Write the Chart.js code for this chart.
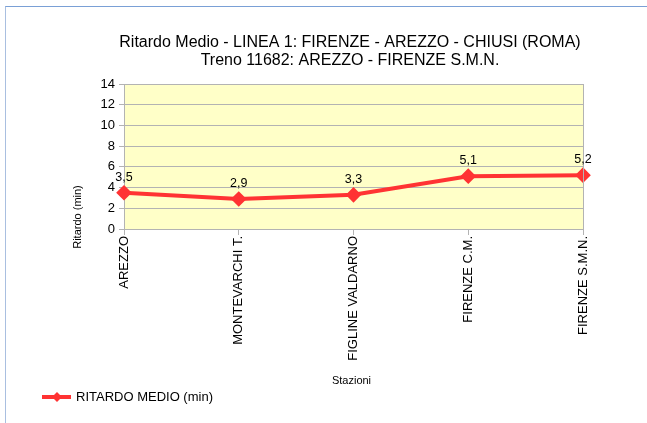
<!DOCTYPE html>
<html>
<head>
<meta charset="utf-8">
<script src="https://cdn.jsdelivr.net/npm/chart.js@4.4.0/dist/chart.umd.min.js"></script>
<style>
  body { margin: 0; background: #fff; }
  #wrap { position: relative; width: 647px; height: 423px; }
  #frame { position: absolute; left: 5px; top: 6px; right: 0; bottom: 0;
           border-top: 1.5px solid #7aa0d6; border-left: 1.5px solid #a9bfe0; }
  canvas { position: absolute; left: 0; top: 0; }
</style>
</head>
<body>
<div id="wrap">
  <div id="frame"></div>
  <canvas id="chart" width="647" height="423"></canvas>
</div>
<script>
// Data
const stazioni = ['AREZZO', 'MONTEVARCHI T.', 'FIGLINE VALDARNO', 'FIRENZE C.M.', 'FIRENZE S.M.N.'];
const ritardo = [3.5, 2.9, 3.3, 5.1, 5.2];
const yTicks = [0, 2, 4, 6, 8, 10, 12, 14];

const titleLines = ['Ritardo Medio - LINEA 1: FIRENZE - AREZZO - CHIUSI (ROMA)', 'Treno 11682: AREZZO - FIRENZE S.M.N.'];
const seriesName = 'RITARDO MEDIO (min)';
const FONT = '"Liberation Sans", Arial, sans-serif';
const RED = '#ff3333';

// Yellow background + right border of plot area
const plotBg = {
    id: 'plotBg',
    beforeDraw(chart) {
        const { ctx, chartArea: a } = chart;
        ctx.save();
        ctx.fillStyle = '#ffffc8';
        ctx.fillRect(a.left, a.top, a.right - a.left, a.bottom - a.top);
        ctx.restore();
    },
    afterDatasetsDraw(chart) {
        const { ctx, chartArea: a } = chart;
        ctx.save();
        ctx.strokeStyle = '#b3b3b3';
        ctx.lineWidth = 1;
        ctx.beginPath();
        ctx.moveTo(a.right + 0.5, a.top);
        ctx.lineTo(a.right + 0.5, a.bottom);
        ctx.stroke();
        ctx.restore();
    }
};

// Titles, axis titles, value labels, legend
const extras = {
    id: 'extras',
    afterDraw(chart) {
        const { ctx, chartArea: a } = chart;
        const cx = (a.left + a.right) / 2;
        ctx.save();
        ctx.fillStyle = '#000';
        ctx.textAlign = 'center';
        ctx.textBaseline = 'middle';
        ctx.font = '16px ' + FONT;
        ctx.fillText(titleLines[0], 350, 43);
        ctx.fillText(titleLines[1], 350, 61);

        // value labels
        ctx.font = '12.5px ' + FONT;
        ctx.textBaseline = 'alphabetic';
        chart.getDatasetMeta(0).data.forEach((pt, i) => {
            ctx.fillText(String(ritardo[i]).replace('.', ','), pt.x, pt.y - 12);
        });

        // axis titles
        ctx.font = '11px ' + FONT;
        ctx.textBaseline = 'middle';
        ctx.fillText('Stazioni', cx - 2, 381);
        ctx.save();
        ctx.translate(78, 217);
        ctx.rotate(-Math.PI / 2);
        ctx.fillText('Ritardo (min)', 0, 0);
        ctx.restore();

        // legend
        ctx.strokeStyle = RED;
        ctx.lineWidth = 4;
        ctx.beginPath();
        ctx.moveTo(42, 397);
        ctx.lineTo(71, 397);
        ctx.stroke();
        ctx.fillStyle = RED;
        ctx.beginPath();
        ctx.moveTo(57, 392); ctx.lineTo(62, 397); ctx.lineTo(57, 402); ctx.lineTo(52, 397);
        ctx.closePath();
        ctx.fill();
        ctx.fillStyle = '#000';
        ctx.textAlign = 'left';
        ctx.font = '13px ' + FONT;
        ctx.fillText(seriesName, 76, 397);
        ctx.restore();
    }
};

new Chart(document.getElementById('chart'), {
    type: 'line',
    data: {
        labels: stazioni,
        datasets: [{
            label: seriesName,
            data: ritardo,
            borderColor: RED,
            backgroundColor: RED,
            borderWidth: 4,
            pointStyle: 'rectRot',
            pointRadius: 5,
            pointHoverRadius: 5,
            tension: 0
        }]
    },
    options: {
        responsive: false,
        animation: false,
        layout: { padding: { top: 84, right: 64, left: 0, bottom: 0 } },
        plugins: {
            legend: { display: false },
            title: { display: false },
            tooltip: { enabled: false }
        },
        scales: {
            x: {
                offset: false,
                grid: { drawOnChartArea: false, color: '#b3b3b3', tickLength: 6 },
                border: { color: '#b3b3b3' },
                ticks: {
                    color: '#000',
                    font: { family: FONT, size: 13 },
                    minRotation: 90,
                    maxRotation: 90,
                    padding: 1,
                    autoSkip: false
                },
                afterFit(scale) { scale.height = 423 - 229; }
            },
            y: {
                min: 0,
                max: 14,
                afterBuildTicks(scale) { scale.ticks = yTicks.map(v => ({ value: v })); },
                grid: { color: '#b3b3b3', tickLength: 5 },
                border: { color: '#b3b3b3' },
                ticks: {
                    color: '#000',
                    font: { family: FONT, size: 13 },
                    padding: 4
                },
                afterFit(scale) { scale.width = 124; }
            }
        }
    },
    plugins: [plotBg, extras]
});
</script>
</body>
</html>
